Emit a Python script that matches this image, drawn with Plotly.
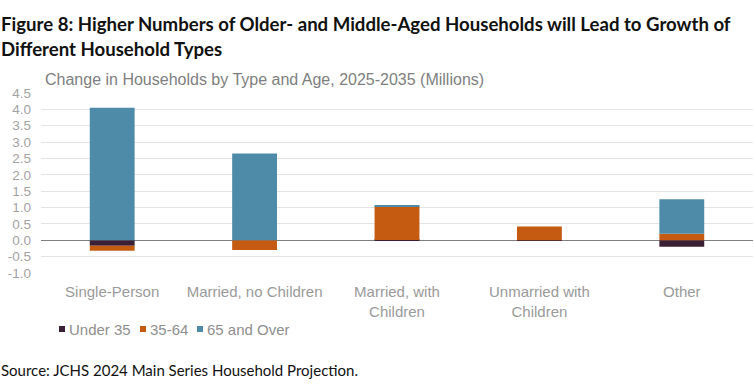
import plotly.graph_objects as go

categories = ["Single-Person", "Married, no Children", "Married, with<br>Children", "Unmarried with<br>Children", "Other"]
under35 = [-0.17, 0.0, 0.01, -0.02, -0.2]
age35_64 = [-0.15, -0.30, 1.03, 0.42, 0.2]
over65 = [4.05, 2.65, 0.02, 0.0, 1.05]
series_names = ["Under 35", "35-64", "65 and Over"]
colors = ["#3b1f34", "#c55a11", "#4e8ba8"]
tick_vals = [-1.0, -0.5, 0.0, 0.5, 1.0, 1.5, 2.0, 2.5, 3.0, 3.5, 4.0, 4.5]

W, H = 754, 392
L, R, T, B = 41, 1, 93, 119
SANS = "Liberation Sans"

fig = go.Figure()
for name, vals, col in zip(series_names, [under35, age35_64, over65], colors):
    fig.add_trace(go.Bar(x=categories, y=vals, name=name, marker_color=col,
                         marker_line_width=0, width=0.315))

gray = "#9a9a9a"
fig.update_layout(
    width=W, height=H, barmode="relative",
    margin=dict(l=L, r=R, t=T, b=B, autoexpand=False),
    plot_bgcolor="white", paper_bgcolor="white",
    font=dict(family=SANS, color=gray, size=15),
    showlegend=False,
    xaxis=dict(showgrid=False, showline=False, ticks="", automargin=False,
               tickfont=dict(size=15, color=gray, family=SANS), ticklabelstandoff=8),
    yaxis=dict(range=[-1.0, 4.5], tickvals=tick_vals, ticktext=[f"{v:.1f}" for v in tick_vals],
               showgrid=True, gridcolor="#e4e4e4", gridwidth=1, zeroline=True, automargin=False,
               zerolinecolor="#808080", zerolinewidth=1.3,
               tickfont=dict(size=13.5, color="#a3a3a3", family=SANS),
               ticklabelstandoff=9),
)

def px_x(x):
    return (x - L) / (W - L - R)

def px_y(y):
    return 1 - (y - T) / (H - T - B)

def ann(text, x, y, size, color, family, bold=False):
    fig.add_annotation(text=f"<b>{text}</b>" if bold else text, xref="paper", yref="paper",
                       x=px_x(x), y=px_y(y), xanchor="left", yanchor="middle",
                       showarrow=False, align="left", borderpad=0,
                       font=dict(size=size, color=color, family=family))

ann("Figure 8: Higher Numbers of Older- and Middle-Aged Households will Lead to Growth of", 0, 24, 18.6, "#111111", "Lato", bold=True)
ann("Different Household Types", 0, 49, 18.6, "#111111", "Lato", bold=True)
ann("Change in Households by Type and Age, 2025-2035 (Millions)", 44, 79, 16, "#808080", SANS)
ann("Source: JCHS 2024 Main Series Household Projection.", 0, 370, 15, "#111111", "Lato")

# legend (colour keys + labels)
legend_x = [59, 140, 197]
for name, col, lx in zip(series_names, colors, legend_x):
    fig.add_shape(type="rect", xref="paper", yref="paper",
                  x0=px_x(lx), x1=px_x(lx + 6), y0=px_y(332), y1=px_y(326),
                  fillcolor=col, line_width=0)
    ann(name, lx + 9, 329, 15, "#8f8f8f", SANS)

fig.write_html("out.html", config={"displayModeBar": False},
               post_script="document.body.style.margin='0px';document.body.style.overflow='hidden';")
